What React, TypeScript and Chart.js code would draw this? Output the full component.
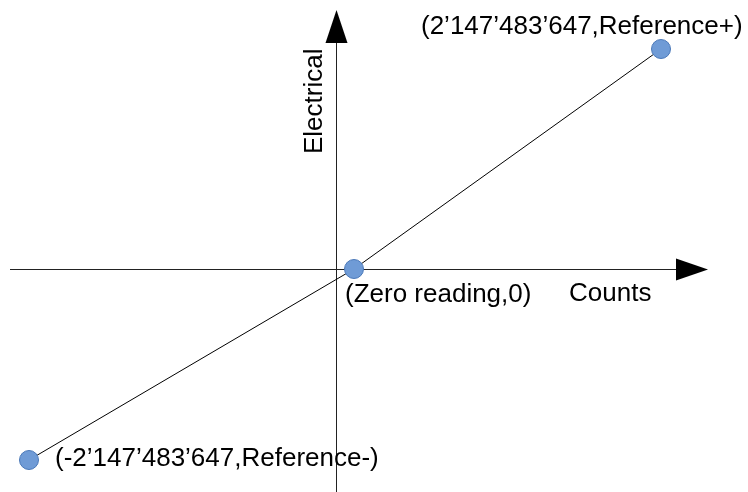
import React, { useEffect, useRef } from "react";
import { Chart, registerables } from "chart.js";

Chart.register(...registerables);

// Diagram units (axis origin at 0,0)
const pointX = [-30.7, 1.8, 32.5];
const pointY = [-19.1, 0, 22.0];
const pointLabels = [
  "(-2\u2019147\u2019483\u2019647,Reference-)",
  "(Zero reading,0)",
  "(2\u2019147\u2019483\u2019647,Reference+)",
];
const xAxisTitle = "Counts";
const yAxisTitle = "Electrical";

const X_MIN = -33.6;
const X_MAX = 41.2;
const Y_MIN = -22.3;
const Y_MAX = 26.9;

const FONT = "26px 'Liberation Sans', Arial, sans-serif";

const diagramPlugin = {
  id: "diagram",
  beforeDatasetsDraw(chart: any) {
    const { ctx, scales } = chart;
    const xs = scales.x;
    const ys = scales.y;
    const ox = Math.round(xs.getPixelForValue(0)) + 0.5;
    const oy = Math.round(ys.getPixelForValue(0)) + 0.5;
    ctx.save();
    ctx.strokeStyle = "#222222";
    ctx.fillStyle = "#000000";
    ctx.lineWidth = 1;
    // horizontal axis
    const hx0 = xs.getPixelForValue(-32.6);
    const hBase = xs.getPixelForValue(34.0);
    const hTip = xs.getPixelForValue(37.2);
    ctx.beginPath();
    ctx.moveTo(hx0, oy);
    ctx.lineTo(hBase, oy);
    ctx.stroke();
    ctx.beginPath();
    ctx.moveTo(hBase, oy - 11);
    ctx.lineTo(hTip, oy);
    ctx.lineTo(hBase, oy + 11);
    ctx.closePath();
    ctx.fill();
    // vertical axis
    const vy0 = ys.getPixelForValue(Y_MIN);
    const vBase = ys.getPixelForValue(22.6);
    const vTip = ys.getPixelForValue(25.9);
    ctx.beginPath();
    ctx.moveTo(ox, vy0);
    ctx.lineTo(ox, vBase);
    ctx.stroke();
    ctx.beginPath();
    ctx.moveTo(ox - 11, vBase);
    ctx.lineTo(ox, vTip);
    ctx.lineTo(ox + 11, vBase);
    ctx.closePath();
    ctx.fill();
    ctx.restore();
  },
  afterDatasetsDraw(chart: any) {
    const { ctx, scales } = chart;
    const xs = scales.x;
    const ys = scales.y;
    ctx.save();
    ctx.fillStyle = "#000000";
    ctx.font = FONT;
    ctx.textBaseline = "alphabetic";
    ctx.textAlign = "left";
    // point labels
    ctx.fillText(pointLabels[0], xs.getPixelForValue(-28.1), ys.getPixelForValue(-19.7));
    ctx.fillText(pointLabels[1], xs.getPixelForValue(0.9), ys.getPixelForValue(-3.3));
    ctx.fillText(pointLabels[2], xs.getPixelForValue(8.5), ys.getPixelForValue(23.5));
    // axis titles
    ctx.fillText(xAxisTitle, xs.getPixelForValue(23.3), ys.getPixelForValue(-3.2));
    ctx.translate(xs.getPixelForValue(-1.4), ys.getPixelForValue(11.5));
    ctx.rotate(-Math.PI / 2);
    ctx.fillText(yAxisTitle, 0, 0);
    ctx.restore();
  },
};

export default function App() {
  const ref = useRef<HTMLCanvasElement | null>(null);
  useEffect(() => {
    if (!ref.current) return;
    const data = pointX.map((x, i) => ({ x, y: pointY[i] }));
    const chart = new Chart(ref.current, {
      type: "scatter",
      data: {
        datasets: [
          {
            data,
            showLine: true,
            borderColor: "#000000",
            borderWidth: 1,
            pointRadius: 9.5,
            pointHoverRadius: 9.5,
            pointBackgroundColor: "#6f9bd6",
            pointBorderColor: "#4a78b8",
            pointBorderWidth: 1,
            clip: false,
          },
        ],
      },
      options: {
        responsive: false,
        animation: false,
        layout: { padding: 0, autoPadding: false },
        plugins: { legend: { display: false }, tooltip: { enabled: false } },
        events: [],
        scales: {
          x: { type: "linear", min: X_MIN, max: X_MAX, display: false },
          y: { type: "linear", min: Y_MIN, max: Y_MAX, display: false },
        },
      },
      plugins: [diagramPlugin],
    });
    return () => chart.destroy();
  }, []);
  return (
    <div style={{ position: "fixed", left: 0, top: 0, width: 748, height: 492, background: "#ffffff" }}>
      <canvas ref={ref} width={748} height={492} style={{ display: "block" }} />
    </div>
  );
}
